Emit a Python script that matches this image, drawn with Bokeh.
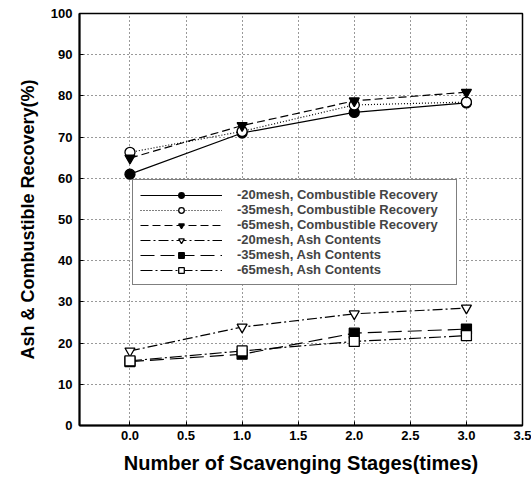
from bokeh.plotting import figure
from bokeh.models import Legend, LegendItem, FixedTicker, Range1d
from bokeh.embed import file_html
from bokeh.resources import INLINE

stages = [0, 1, 2, 3]
cr_20 = [61.0, 71.0, 76.0, 78.3]
cr_35 = [66.3, 71.4, 77.8, 78.5]
cr_65 = [64.9, 72.8, 78.8, 80.9]
ash_20 = [18.1, 23.9, 27.1, 28.5]
ash_35 = [15.5, 17.3, 22.4, 23.4]
ash_65 = [15.7, 18.1, 20.4, 21.8]
labels = ["-20mesh, Combustible Recovery", "-35mesh, Combustible Recovery",
          "-65mesh, Combustible Recovery", "-20mesh, Ash Contents",
          "-35mesh, Ash Contents", "-65mesh, Ash Contents"]
x_ticks = [0.0, 0.5, 1.0, 1.5, 2.0, 2.5, 3.0, 3.5]
y_ticks = [0, 10, 20, 30, 40, 50, 60, 70, 80, 90, 100]

FONT = "Liberation Sans"

p = figure(frame_width=443, frame_height=412, output_backend="svg", toolbar_location=None,
           x_range=Range1d(-0.45, 3.5), y_range=Range1d(0, 100),
           min_border_left=79, min_border_right=9, min_border_top=13, min_border_bottom=58)
p.background_fill_color = "white"
p.border_fill_color = "white"
p.outline_line_color = "black"
p.outline_line_width = 1.5

for ax in (p.xaxis[0], p.yaxis[0]):
    ax.axis_line_width = 2
    ax.axis_line_color = "black"
    ax.major_tick_in = 4
    ax.major_tick_out = 0
    ax.minor_tick_line_color = None
    ax.major_label_text_font = FONT
    ax.major_label_text_font_style = "bold"
    ax.major_label_text_font_size = "13px"
    ax.major_label_text_color = "black"
    ax.axis_label_text_font = FONT
    ax.axis_label_text_font_style = "bold"
    ax.axis_label_text_color = "black"

p.xaxis.ticker = FixedTicker(ticks=x_ticks)
p.yaxis.ticker = FixedTicker(ticks=y_ticks)
p.xaxis.major_label_overrides = {t: f"{t:.1f}" for t in x_ticks}
p.xaxis.axis_label = "Number of Scavenging Stages(times)"
p.yaxis.axis_label = "Ash & Combustible Recovery(%)"
p.xaxis.axis_label_text_font_size = "20px"
p.yaxis.axis_label_text_font_size = "18px"
p.xaxis.major_label_standoff = 5
p.yaxis.major_label_standoff = 7
p.xaxis.axis_label_standoff = 9
p.yaxis.axis_label_standoff = 10

for g in (p.xgrid[0], p.ygrid[0]):
    g.grid_line_color = "#333333"
    g.grid_line_dash = "1 3"
    g.grid_line_width = 1
p.xgrid.ticker = FixedTicker(ticks=x_ticks)
p.ygrid.ticker = FixedTicker(ticks=y_ticks[1:-1])

series = [
    (cr_20, "solid", "circle", "black"),
    (cr_35, "1 2", "circle", "white"),
    (cr_65, "8 4", "inverted_triangle", "black"),
    (ash_20, "10 3 2 3", "inverted_triangle", "white"),
    (ash_35, "14 6", "square", "black"),
    (ash_65, "12 3 2 3", "square", "white"),
]

items = []
for (ys, dash, marker, fill), lab in zip(series, labels):
    ln = p.line(stages, ys, line_color="black", line_width=1.2, line_dash=dash)
    sc = p.scatter(stages, ys, marker=marker, size=10, fill_color=fill,
                   line_color="black", line_width=1.3)
    items.append(LegendItem(label=lab, renderers=[ln, sc]))

legend = Legend(items=items, location=(53, 140))
legend.glyph_width = 82
legend.glyph_height = 14
legend.label_height = 14
legend.label_width = 212
legend.spacing = 0
legend.padding = 7
legend.margin = 0
legend.label_standoff = 15
legend.label_text_font = FONT
legend.label_text_font_style = "bold"
legend.label_text_font_size = "13px"
legend.label_text_line_height = 1.1
legend.border_line_color = "black"
legend.border_line_width = 1.5
legend.background_fill_alpha = 1
p.add_layout(legend, "center")

open("out.html", "w").write(file_html(p, INLINE))
